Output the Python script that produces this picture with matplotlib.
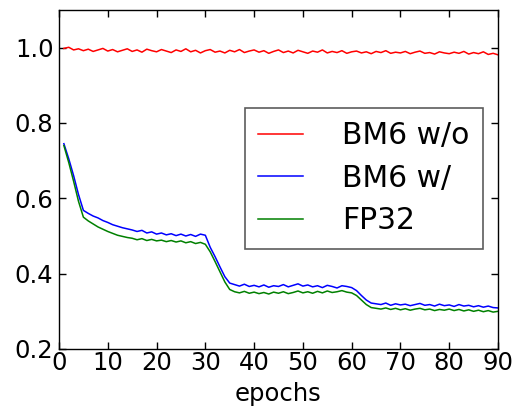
import numpy as np
import matplotlib
matplotlib.use("Agg")
import matplotlib.pyplot as plt

# 每个 epoch 的读数（从参考图估计）
epochs = np.arange(1, 91)

bm6_wo = [
    0.998, 1.001, 0.994, 0.997, 0.992, 0.996, 0.990, 0.994, 0.998, 0.991,
    0.995, 0.989, 0.993, 0.997, 0.990, 0.994, 0.988, 0.996, 0.992, 0.989,
    0.995, 0.991, 0.987, 0.994, 0.990, 0.997, 0.989, 0.993, 0.986, 0.992,
    0.995, 0.988, 0.991, 0.986, 0.993, 0.989, 0.995, 0.987, 0.991, 0.994,
    0.988, 0.992, 0.985, 0.990, 0.994, 0.987, 0.991, 0.986, 0.993, 0.989,
    0.985, 0.991, 0.988, 0.994, 0.986, 0.990, 0.987, 0.992, 0.985, 0.989,
    0.991, 0.986, 0.989, 0.984, 0.990, 0.987, 0.992, 0.985, 0.988, 0.986,
    0.990, 0.984, 0.988, 0.991, 0.985, 0.987, 0.983, 0.989, 0.986, 0.984,
    0.988, 0.985, 0.990, 0.983, 0.987, 0.984, 0.989, 0.982, 0.985, 0.981,
]

bm6_w = [
    0.745, 0.705, 0.660, 0.610, 0.568, 0.560, 0.553, 0.548, 0.541, 0.536,
    0.530, 0.526, 0.522, 0.519, 0.516, 0.512, 0.515, 0.508, 0.511, 0.505,
    0.508, 0.503, 0.506, 0.501, 0.505, 0.500, 0.504, 0.499, 0.505, 0.502,
    0.470, 0.445, 0.418, 0.392, 0.375, 0.371, 0.367, 0.372, 0.366, 0.369,
    0.365, 0.370, 0.364, 0.368, 0.366, 0.371, 0.365, 0.369, 0.373, 0.367,
    0.370, 0.365, 0.368, 0.363, 0.369, 0.366, 0.362, 0.368, 0.366, 0.363,
    0.355, 0.342, 0.330, 0.322, 0.320, 0.318, 0.322, 0.316, 0.320, 0.317,
    0.319, 0.315, 0.318, 0.321, 0.316, 0.318, 0.314, 0.319, 0.315, 0.317,
    0.313, 0.318, 0.314, 0.316, 0.312, 0.315, 0.311, 0.314, 0.310, 0.309,
]

fp32 = [
    0.740, 0.695, 0.645, 0.592, 0.550, 0.540, 0.532, 0.524, 0.518, 0.512,
    0.507, 0.502, 0.499, 0.496, 0.494, 0.490, 0.493, 0.488, 0.491, 0.487,
    0.489, 0.485, 0.488, 0.484, 0.487, 0.482, 0.485, 0.480, 0.483, 0.478,
    0.458, 0.432, 0.405, 0.378, 0.358, 0.352, 0.349, 0.353, 0.348, 0.351,
    0.347, 0.350, 0.346, 0.351, 0.348, 0.352, 0.347, 0.350, 0.354, 0.349,
    0.352, 0.348, 0.353, 0.349, 0.354, 0.350, 0.352, 0.355, 0.351, 0.349,
    0.342, 0.330, 0.318, 0.310, 0.308, 0.306, 0.309, 0.305, 0.308, 0.304,
    0.307, 0.303, 0.306, 0.308, 0.304, 0.306, 0.302, 0.305, 0.303, 0.306,
    0.302, 0.305, 0.301, 0.304, 0.300, 0.303, 0.299, 0.302, 0.298, 0.300,
]

fig = plt.figure(figsize=(5.17, 4.13), dpi=100)
ax = fig.add_axes([59 / 517, 64 / 413, 439 / 517, 339 / 413])

ax.plot(epochs, bm6_wo, color="r", linewidth=1.1, label="BM6 w/o")
ax.plot(epochs, bm6_w, color="b", linewidth=1.1, label="BM6 w/")
ax.plot(epochs, fp32, color="g", linewidth=1.1, label="FP32")

ax.set_xlim(0, 90)
ax.set_ylim(0.2, 1.1)
ax.set_xticks(np.arange(0, 91, 10))
ax.set_yticks([0.2, 0.4, 0.6, 0.8, 1.0])
ax.tick_params(direction="in", top=True, right=True, length=5, width=1,
               labelsize=17.5)
ax.tick_params(axis="x", pad=1.5)
ax.tick_params(axis="y", pad=4)
ax.set_xlabel("epochs", fontsize=17.5, labelpad=5)
for s in ax.spines.values():
    s.set_linewidth(1)

leg = ax.legend(loc="upper left", bbox_to_anchor=(186 / 439, 241 / 339),
                borderaxespad=0, fontsize=21.5, fancybox=False,
                handlelength=1.5, handletextpad=1.3, labelspacing=0.45,
                borderpad=0.45)
leg.get_frame().set_edgecolor("#333333")
leg.get_frame().set_linewidth(1.2)

fig.savefig("out.png", dpi=100)
